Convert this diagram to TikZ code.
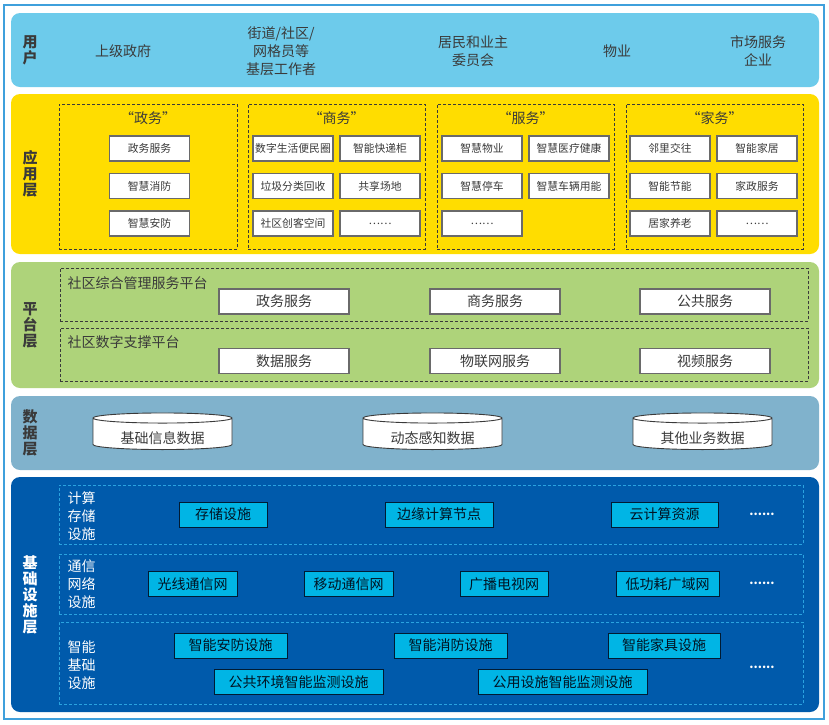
\documentclass[tikz,border=0pt]{standalone}
\usepackage{fontspec}
\setmainfont{Noto Sans CJK SC}
\usepackage{tikz}
\usetikzlibrary{shapes.geometric}

\definecolor{frameblue}{HTML}{3FA0DC}
\definecolor{userblue}{HTML}{6DCBEB}
\definecolor{appyellow}{HTML}{FFDD00}
\definecolor{platgreen}{HTML}{AED37A}
\definecolor{datablue}{HTML}{80B2CC}
\definecolor{infrablue}{HTML}{005AAB}
\definecolor{infcyan}{HTML}{00B5E5}
\definecolor{infline}{HTML}{2AA3DF}
\definecolor{txtgray}{HTML}{3A3A3A}
\definecolor{boxgray}{HTML}{6A6A6A}

\begin{document}
\begin{tikzpicture}[
        x=1pt, y=-1pt,
        font=\fontsize{14}{18}\selectfont, text=txtgray,
        panel/.style={rectangle, rounded corners=9pt, minimum width=808pt, inner sep=0pt},
        layerlabel/.style={font=\fontsize{15}{16}\selectfont\bfseries, align=center},
        usertext/.style={align=center},
        grp/.style={rectangle, draw=txtgray, dashed, dash pattern=on 3pt off 2pt, line width=0.7pt, inner sep=0pt},
        appbox/.style={rectangle, draw=boxgray, fill=white, line width=1.1pt, minimum width=80pt, minimum height=25pt, inner sep=0pt, font=\fontsize{10.8}{12}\selectfont},
        apptitle/.style={font=\fontsize{14}{16}\selectfont},
        platbox/.style={rectangle, draw=boxgray, fill=white, line width=1.1pt, minimum width=130pt, minimum height=25pt, inner sep=0pt},
        dbnode/.style={cylinder, shape border rotate=90, aspect=0.12, draw=txtgray, fill=white, line width=0.9pt, minimum width=139pt, minimum height=34pt, inner sep=0pt, text height=20pt, text depth=1pt},
        infgrp/.style={rectangle, draw=infline, dashed, dash pattern=on 3pt off 2pt, line width=0.8pt, minimum width=744pt, inner sep=0pt},
        infbox/.style={rectangle, draw=black!70!infrablue, fill=infcyan, line width=1pt, minimum height=25pt, inner sep=0pt, text=black!80!infrablue},
        inflabel/.style={align=left, anchor=west, text=white},
        dots/.style={text=white, font=\fontsize{12}{14}\selectfont\bfseries}
    ]
    \useasboundingbox (0,0) rectangle (829,724);

    % ==========================================
    % 0. Outer frame + layer panels
    % ==========================================
    \node[rectangle, draw=frameblue, line width=1.2pt, minimum width=820pt, minimum height=714pt, inner sep=0pt] (frame) at (414,362) {};
    \node[panel, fill=userblue, minimum height=74pt] (user) at (415,50) {};
    \node[panel, fill=appyellow, minimum height=160pt] (app) at (415,174) {};
    \node[panel, fill=platgreen, minimum height=126pt] (plat) at (415,325) {};
    \node[panel, fill=datablue, minimum height=74pt] (data) at (415,433) {};
    \node[panel, fill=infrablue, minimum height=235pt] (infra) at (415,594.5) {};

    % layer labels (x=30)
    \node[layerlabel] (lbuser) at (30,50) {用\\户};
    \node[layerlabel] (lbapp) at (30,174) {应\\用\\层};
    \node[layerlabel] (lbplat) at (30,325) {平\\台\\层};
    \node[layerlabel] (lbdata) at (30,433) {数\\据\\层};
    \node[layerlabel, text=white] (lbinfra) at (30,594.5) {基\\础\\设\\施\\层};

    % ==========================================
    % 1. Users
    % ==========================================
    \node[usertext] (u1) at (123,51) {上级政府};
    \node[usertext] (u2) at (281,51) {街道/社区/\\网格员等\\基层工作者};
    \node[usertext] (u3) at (473,51) {居民和业主\\委员会};
    \node[usertext] (u4) at (617,51) {物业};
    \node[usertext] (u5) at (758,51) {市场服务\\企业};

    % ==========================================
    % 2. Application layer
    % ==========================================
    \node[grp, minimum width=178pt, minimum height=145pt] (gzw) at (148,176.5) {};
    \node[grp, minimum width=177pt, minimum height=145pt] (gsw) at (336.5,176.5) {};
    \node[grp, minimum width=177pt, minimum height=145pt] (gfw) at (525.5,176.5) {};
    \node[grp, minimum width=177pt, minimum height=145pt] (gjw) at (714.5,176.5) {};
    \node[apptitle] (tzw) at (148,118) {“政务”};
    \node[apptitle] (tsw) at (336.5,118) {“商务”};
    \node[apptitle] (tfw) at (525.5,118) {“服务”};
    \node[apptitle] (tjw) at (714.5,118) {“家务”};

    % 政务
    \node[appbox] (zw1) at (149.5,148.5) {政务服务};
    \node[appbox] (zw2) at (149.5,186) {智慧消防};
    \node[appbox] (zw3) at (149.5,223.5) {智慧安防};
    % 商务
    \node[appbox] (sw1) at (293,148.5) {数字生活便民圈};
    \node[appbox] (sw2) at (380,148.5) {智能快递柜};
    \node[appbox] (sw3) at (293,186) {垃圾分类回收};
    \node[appbox] (sw4) at (380,186) {共享场地};
    \node[appbox] (sw5) at (293,223.5) {社区创客空间};
    \node[appbox] (sw6) at (380,223.5) {……};
    % 服务
    \node[appbox] (fw1) at (482,148.5) {智慧物业};
    \node[appbox] (fw2) at (569,148.5) {智慧医疗健康};
    \node[appbox] (fw3) at (482,186) {智慧停车};
    \node[appbox] (fw4) at (569,186) {智慧车辆用能};
    \node[appbox] (fw5) at (482,223.5) {……};
    % 家务
    \node[appbox] (jw1) at (670,148.5) {邻里交往};
    \node[appbox] (jw2) at (757,148.5) {智能家居};
    \node[appbox] (jw3) at (670,186) {智能节能};
    \node[appbox] (jw4) at (757,186) {家政服务};
    \node[appbox] (jw5) at (670,223.5) {居家养老};
    \node[appbox] (jw6) at (757,223.5) {……};

    % ==========================================
    % 3. Platform layer
    % ==========================================
    \node[grp, minimum width=748pt, minimum height=53pt] (gmgr) at (434,294.5) {};
    \node[grp, minimum width=748pt, minimum height=53pt] (gdig) at (434,354.5) {};
    \node[anchor=west] (tmgr) at (64,283) {社区综合管理服务平台};
    \node[anchor=west] (tdig) at (64,342) {社区数字支撑平台};
    \node[platbox] (p1) at (284,301.5) {政务服务};
    \node[platbox] (p2) at (495,301.5) {商务服务};
    \node[platbox] (p3) at (705,301.5) {公共服务};
    \node[platbox] (p4) at (284,361) {数据服务};
    \node[platbox] (p5) at (495,361) {物联网服务};
    \node[platbox] (p6) at (705,361) {视频服务};

    % ==========================================
    % 4. Data layer
    % ==========================================
    \node[dbnode] (d1) at (162.5,434) {基础信息数据};
    \node[dbnode] (d2) at (432.5,434) {动态感知数据};
    \node[dbnode] (d3) at (702.5,434) {其他业务数据};

    % ==========================================
    % 5. Infrastructure layer
    % ==========================================
    \node[infgrp, minimum height=59pt] (gcmp) at (431,514.5) {};
    \node[infgrp, minimum height=60pt] (gnet) at (431,584) {};
    \node[infgrp, minimum height=82pt] (gsmt) at (431,663) {};
    \node[inflabel] (lcmp) at (64,516) {计算\\存储\\设施};
    \node[inflabel] (lnet) at (64,584) {通信\\网络\\设施};
    \node[inflabel] (lsmt) at (64,665) {智能\\基础\\设施};

    % 计算存储
    \node[infbox, minimum width=88pt] (c1) at (223,514.5) {存储设施};
    \node[infbox, minimum width=108pt] (c2) at (439,514.5) {边缘计算节点};
    \node[infbox, minimum width=107pt] (c3) at (664.5,514.5) {云计算资源};
    \node[dots] (cdots) at (762,514) {......};
    % 通信网络
    \node[infbox, minimum width=89pt] (n1) at (192.5,584) {光线通信网};
    \node[infbox, minimum width=89pt] (n2) at (348.5,584) {移动通信网};
    \node[infbox, minimum width=88pt] (n3) at (504,584) {广播电视网};
    \node[infbox, minimum width=103pt] (n4) at (667.5,584) {低功耗广域网};
    \node[dots] (ndots) at (762,583) {......};
    % 智能基础
    \node[infbox, minimum width=113pt] (s1) at (230.5,645.5) {智能安防设施};
    \node[infbox, minimum width=113pt] (s2) at (450.5,645.5) {智能消防设施};
    \node[infbox, minimum width=112pt] (s3) at (664,645.5) {智能家具设施};
    \node[infbox, minimum width=169pt] (s4) at (298.5,682) {公共环境智能监测设施};
    \node[infbox, minimum width=169pt] (s5) at (562.5,682) {公用设施智能监测设施};
    \node[dots] (sdots) at (762,667) {......};

\end{tikzpicture}
\end{document}
